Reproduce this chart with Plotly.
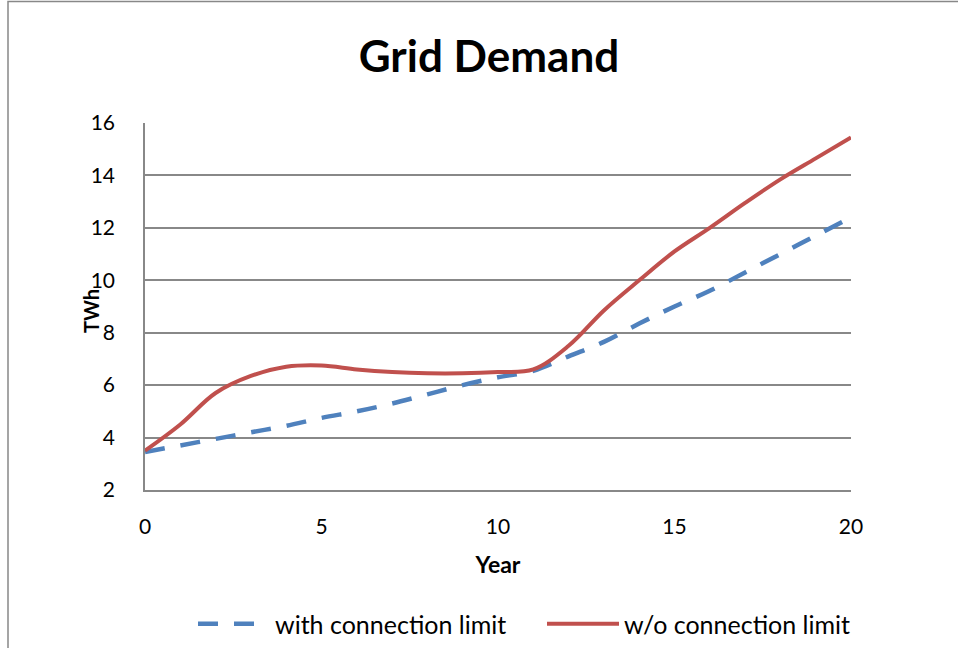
import plotly.graph_objects as go

# Yearly grid demand (TWh)
years = list(range(0, 21))
with_limit = [3.45, 3.7, 3.95, 4.2, 4.45, 4.75, 5.0, 5.3, 5.65, 6.0, 6.3,
              6.55, 7.1, 7.65, 8.35, 9.0, 9.6, 10.3, 11.0, 11.7, 12.4]
without_limit = [3.5, 4.5, 5.7, 6.35, 6.7, 6.75, 6.6, 6.5, 6.45, 6.45, 6.5,
                 6.6, 7.5, 8.85, 10.0, 11.1, 12.0, 12.95, 13.85, 14.65, 15.45]
series_names = ["with connection limit", "w/o connection limit"]
y_ticks = [2, 4, 6, 8, 10, 12, 14, 16]
x_ticks = [0, 5, 10, 15, 20]

FONT = "Lato, 'Open Sans', sans-serif"
W, H = 958, 648
ML, MR, MT, MB = 145, 107, 123, 158
pw = W - ML - MR
ph = H - MT - MB

fig = go.Figure()
fig.add_trace(go.Scatter(
    x=years, y=with_limit, name=series_names[0], mode="lines",
    line=dict(color="#4F81BD", width=4.5, dash="20px,16px", shape="spline", smoothing=1.0),
))
fig.add_trace(go.Scatter(
    x=years, y=without_limit, name=series_names[1], mode="lines",
    line=dict(color="#C0504D", width=4, shape="spline", smoothing=1.0),
))

# outer chart border (top and left edges visible)
fig.add_shape(type="rect", xref="paper", yref="paper",
              x0=(8 - ML) / pw, x1=(W + 20 - ML) / pw,
              y0=-(H + 20 - MT - ph) / ph, y1=(ph + MT - 1.5) / ph,
              line=dict(color="#888888", width=1.5), layer="below")

# vertical axis title, tucked in beside the tick labels
fig.add_annotation(text="<b>TWh</b>", textangle=-90, showarrow=False,
                   xref="paper", yref="paper",
                   x=(91 - ML) / pw, y=(ph + MT - 311) / ph,
                   xanchor="center", yanchor="middle",
                   font=dict(size=20, family=FONT, color="black"))

fig.update_layout(
    width=W, height=H,
    margin=dict(l=ML, r=MR, t=MT, b=MB, autoexpand=False),
    paper_bgcolor="white", plot_bgcolor="white",
    font=dict(family=FONT, size=21, color="black"),
    title=dict(text="<b>Grid Demand</b>", font=dict(size=44, family=FONT),
               x=489 / W, xref="container", xanchor="center",
               y=1 - 57 / H, yref="container", yanchor="middle"),
    showlegend=True,
    legend=dict(orientation="h", xref="container", yref="container",
                x=542 / W, xanchor="center", y=1 - 624 / H, yanchor="middle",
                font=dict(size=25), itemwidth=72, entrywidth=262,
                entrywidthmode="pixels", bgcolor="rgba(0,0,0,0)"),
    xaxis=dict(range=[0, 20], tickvals=x_ticks, showgrid=False, zeroline=False,
               showline=True, linecolor="#888888", linewidth=1.5,
               ticks="outside", ticklen=17, tickcolor="rgba(0,0,0,0)",
               tickfont=dict(size=21),
               title=dict(text="<b>Year</b>", font=dict(size=23), standoff=20)),
    yaxis=dict(range=[2, 16], tickvals=y_ticks, showgrid=True, gridcolor="#888888",
               gridwidth=1.5, zeroline=False, showline=True, linecolor="#888888",
               linewidth=1.5, ticks="outside", ticklen=24, tickcolor="rgba(0,0,0,0)",
               tickfont=dict(size=21)),
)

fig.write_html("out.html")
